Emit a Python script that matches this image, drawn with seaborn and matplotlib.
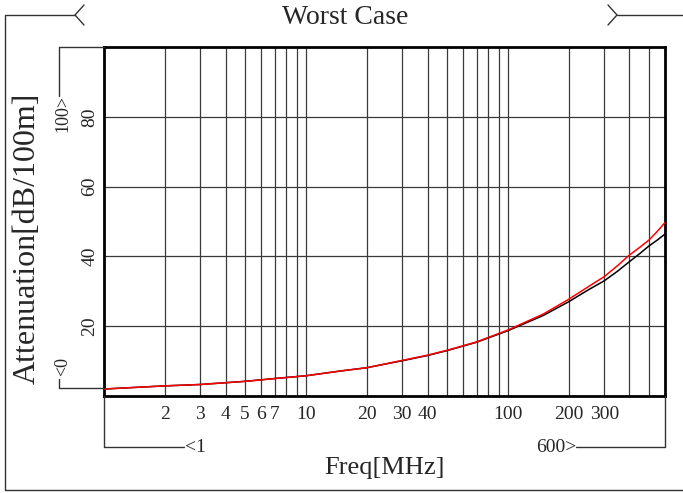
import numpy as np
import pandas as pd
import matplotlib
matplotlib.use("Agg")
import matplotlib.pyplot as plt
import seaborn as sns
from matplotlib.lines import Line2D

# ---------------- data ----------------
freq_mhz = [1, 2, 3, 5, 7, 10, 15, 20, 30, 40, 50, 70, 100, 150, 200, 250, 300, 350, 400, 450, 500, 550, 600]
atten_red = [2.0, 2.9, 3.3, 4.2, 5.0, 5.8, 7.2, 8.1, 10.2, 11.7, 13.1, 15.5, 18.9, 23.5, 27.7, 31.3, 34.2, 37.4, 40.4, 42.6, 44.7, 47.2, 49.7]
atten_black = [2.0, 2.9, 3.3, 4.2, 5.0, 5.8, 7.2, 8.1, 10.1, 11.6, 13.0, 15.4, 18.7, 23.1, 27.0, 30.4, 33.0, 35.8, 38.5, 40.8, 43.0, 44.7, 46.4]
series_names = ["black", "red"]

grid_x = [2, 3, 4, 5, 6, 7, 8, 9, 20, 30, 40, 50, 60, 70, 80, 90, 200, 300, 400, 500]
x_tick_labels = [2, 3, 4, 5, 6, 7, 10, 20, 30, 40, 100, 200, 300]
y_ticks = [20, 40, 60, 80]

title_text = "Worst Case"
xlabel_text = "Freq[MHz]"
ylabel_text = "Attenuation[dB/100m]"

# ---------------- style ----------------
sns.set_theme(style="white")
plt.rcParams['font.family'] = ['Liberation Serif', 'DejaVu Serif']

W, H = 683, 493
fig = plt.figure(figsize=(W / 100, H / 100), dpi=100)
fig.patch.set_facecolor("white")


def fx(px):
    return px / W


def fy(py):
    return 1 - py / H


ax = fig.add_axes([fx(104), fy(396), fx(665) - fx(104), fy(47) - fy(396)])

df = pd.DataFrame({
    "freq": freq_mhz * 2,
    "atten": atten_black + atten_red,
    "series": ["black"] * len(freq_mhz) + ["red"] * len(freq_mhz),
})
sns.lineplot(data=df, x="freq", y="atten", hue="series", hue_order=series_names,
             palette={"black": "#000000", "red": "#ff0000"}, ax=ax,
             legend=False, linewidth=1.1, zorder=3)

ax.set_xscale("log")
ax.set_xlim(1, 600)
ax.set_ylim(0, 100)

all_x = sorted(set(grid_x) | set(x_tick_labels))
ax.set_xticks(all_x)
ax.set_xticklabels([str(v) if v in x_tick_labels else "" for v in all_x], fontsize=14)
ax.xaxis.set_minor_locator(matplotlib.ticker.NullLocator())
ax.set_yticks(y_ticks)
ax.set_yticklabels([str(v) for v in y_ticks], fontsize=14, rotation=90, va="center")
ax.tick_params(axis="x", length=0, pad=7)
ax.tick_params(axis="y", length=0, pad=4)
ax.grid(True, which="major", color="#3a3a3a", linewidth=0.9)
ax.set_xlabel("")
ax.set_ylabel("")
for s in ax.spines.values():
    s.set_color("black")
    s.set_linewidth(2)

# ---------------- frame / brackets ----------------
lc = "#333333"


def seg(xs, ys, lw=1.0):
    fig.add_artist(Line2D([fx(x) for x in xs], [fy(y) for y in ys],
                          transform=fig.transFigure, color=lc, linewidth=lw))


# outer frame
seg([75, 5, 5, 683], [15, 15, 490, 490])
seg([617, 683], [15, 15])
# title chevrons
seg([84, 75, 84], [5, 15, 25])
seg([608, 617, 608], [5, 15, 25])
fig.text(fx(345), fy(17), title_text, ha="center", va="center", fontsize=20)

# y bracket
seg([104, 59, 59], [47, 47, 96])
seg([59, 59, 104], [379, 388, 388])
fig.text(fx(63), fy(113), "100>", rotation=90, ha="center", va="center", fontsize=13)
fig.text(fx(63), fy(367), "<0", rotation=90, ha="center", va="center", fontsize=13)

# x bracket
seg([104, 104, 184], [396, 447, 447])
seg([576, 665, 665], [447, 447, 396])
fig.text(fx(185), fy(447), "<1", ha="left", va="center", fontsize=14)
fig.text(fx(576), fy(447), "600>", ha="right", va="center", fontsize=14)

# axis labels
fig.text(fx(384), fy(468), xlabel_text, ha="center", va="center", fontsize=19)
fig.text(fx(27), fy(238), ylabel_text, rotation=90, ha="center", va="center", fontsize=23)

fig.savefig("out.png", dpi=100)
